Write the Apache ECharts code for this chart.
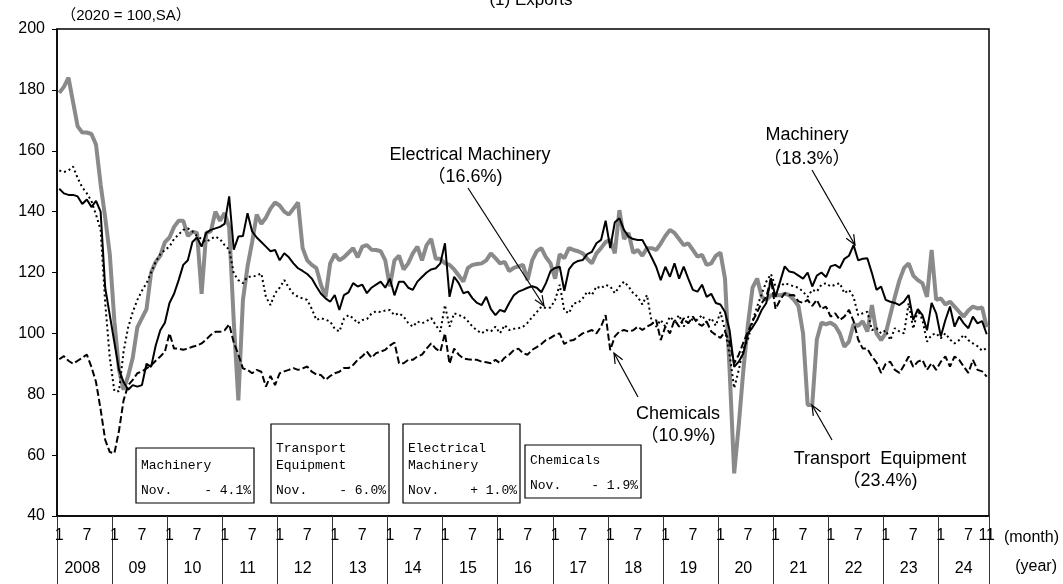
<!DOCTYPE html>
<html>
<head>
<meta charset="utf-8">
<script src="https://cdn.jsdelivr.net/npm/echarts@6/dist/echarts.min.js"></script>
<style>
  body { margin: 0; background: #fff; }
  #exportChart { width: 1063px; height: 584px; }
</style>
</head>
<body>
<div id="exportChart"></div>
<script>
// monthly index, 2020 = 100, Jan 2008 - Nov 2024
const years = ['2008', '09', '10', '11', '12', '13', '14', '15', '16', '17', '18', '19', '20', '21', '22', '23', '24'];
const lastMonth = 11;

const machinery = [
  147.5, 146, 145.5, 145.5, 145, 142.5, 144, 141.5, 143.5, 140, 115, 106,
  97, 88, 84, 81.5, 83, 82.5, 83, 90, 89, 96, 101, 103.5,
  110, 113, 117.5, 122.5, 124, 130, 131.5, 128.5, 133, 134, 134.5, 135,
  136, 145, 127.5, 131.8, 132, 139.5, 133.5, 131.5, 130, 128.5, 127, 127.4,
  124, 126.3, 125, 123, 121.4, 120.5, 119.5, 118, 115.4, 113, 111.5, 110.4,
  112.6, 107.7, 112.6, 113.5, 116.5, 115.4, 116, 113.2, 115, 116, 117, 115,
  118, 112.5, 117, 117, 115, 114.3, 117, 118.5, 120, 121, 121.4, 123,
  129.6, 112, 118.6, 116.5, 113.2, 113.7, 111.5, 110, 109.3, 112, 108, 106,
  107.7, 107.1, 110, 112.5, 113.7, 114.3, 115, 115.5, 115, 113.5, 116.5, 120.5,
  121.5, 121.9, 114, 121, 123, 123.8, 124.1, 126, 126.8, 129.6, 130.7, 137,
  128, 136.5, 137.8, 134, 131.8, 131, 130.7, 130.7, 128, 125, 121.9, 117.5,
  121.9, 118.6, 123, 118, 121.9, 118, 114.3, 113.7, 116, 112, 113, 110,
  109.5, 107, 101, 89, 90.7, 93.5, 100, 102, 104.4, 107.7, 110, 118,
  112, 117, 122, 120.3, 120, 119, 118, 120, 115.4, 119, 120, 118.5,
  122, 122.5, 121.5, 124.5, 125.5, 129, 124, 124.5, 124.7, 119.8, 114.3, 115.4,
  111, 110.4, 110, 109.3, 110.5, 112.6, 104.4, 108, 106, 101, 110, 106.6,
  99, 104.4, 108.8, 102.2, 105.5, 103.3, 101.7, 105.5, 103.3, 104, 99.7
];

const transport = [
  179, 181, 184, 176, 168, 166, 166, 165.5, 162, 149, 138, 126,
  104, 88, 81.5, 86, 92, 102, 105, 108, 120, 123.5, 125.5, 130,
  131.5, 135, 137, 137, 132, 133.4, 133, 113, 133, 133.5, 140, 137,
  139.5, 135, 104, 78, 111, 122, 130, 139, 136, 138, 141, 143,
  142, 140, 139, 141, 143, 128, 124, 122.5, 121.4, 116, 112, 123,
  126, 124, 125, 126.5, 128, 125, 128.5, 129, 127.5, 127.4, 127, 124,
  115.4, 124, 125.5, 121, 123, 126.3, 128.5, 124, 129, 131, 124.5, 124.5,
  123, 122.5, 121, 119, 117, 121.5, 122.5, 122.8, 123, 124, 126.3, 124.7,
  123, 123.5, 120.5, 121.5, 122, 122.5, 117.5, 124, 127, 128, 125, 123,
  118, 126, 124.7, 128, 127.4, 127, 126.3, 124.5, 123, 126.3, 128, 130,
  130.7, 126.3, 140.5, 131, 133, 126.5, 127.4, 125.5, 128, 128, 127.4, 129.5,
  132, 134, 133, 131, 129, 129.6, 127.4, 125.2, 125.8, 122.5, 123, 125.5,
  126.5, 118, 88, 54, 70, 88, 103, 115, 118, 112, 111, 112.5,
  112.5, 112.5, 113, 112.6, 111, 109, 100, 76.5, 76.5, 98, 103.5, 103,
  103.5, 102.5, 100, 95.6, 97.3, 103, 102.5, 104, 100.6, 109.3, 100, 97.8,
  100, 106, 112, 117.5, 121.5, 123, 119, 117.5, 116.5, 112, 127.4, 111,
  111.5, 109.5, 110.4, 108.8, 107.1, 105.5, 107.5, 108.8, 108.2, 108.5, 102
];

const electrical = [
  153.5, 153, 153.5, 154.8, 151, 148, 146, 143.5, 139, 134, 110, 92,
  81, 81, 94, 102, 107, 111, 114, 116.5, 120, 123.5, 126, 127.4,
  128.5, 131, 132.5, 134, 134.5, 133.5, 132, 131, 130, 131, 131.8, 131,
  129, 127.5, 119.7, 117.5, 116.5, 118.6, 118.6, 119, 119.7, 112, 109.3, 113.2,
  115, 117.5, 115, 113, 112, 111.5, 111, 108, 104.4, 105, 104.5, 103.9,
  101.5, 100.6, 104.8, 106, 105, 103.3, 104.4, 104.7, 106.5, 107.3, 107, 107.5,
  107.7, 106, 106.6, 105.5, 103.4, 102.2, 103.9, 103.3, 104, 105, 102.7, 100.6,
  109.3, 102.2, 106.6, 106, 105.5, 104, 102.2, 101, 100, 101.1, 100.6, 102.2,
  100, 102.7, 101.1, 101.5, 101.7, 102.2, 103.5, 105.3, 107, 108.8, 108.3, 108.5,
  111, 116, 107.5, 106.6, 109.9, 110, 111.5, 113.7, 112.6, 115.4, 114.8, 115.9,
  115.4, 113.2, 115.4, 117, 115.4, 113.2, 112, 109.5, 112.6, 104, 102.2, 104.4,
  102.2, 105.5, 103.9, 106, 102.2, 105.5, 104.4, 104.5, 106, 103.5, 105, 102.5,
  107, 101, 93, 82, 88, 95, 98, 104, 108.8, 113, 117, 119.5,
  115.4, 115.4, 116.5, 116, 115.4, 115, 113.7, 112, 114.3, 113.7, 116, 116.5,
  115.4, 116, 116.5, 113.2, 114.3, 112, 106, 106.6, 107.1, 101.1, 101.7, 100,
  101, 97.8, 101.7, 100.6, 100, 109.9, 101.5, 107.7, 104.4, 97.3, 99.5, 100,
  98.4, 100, 98, 96.7, 97.8, 99.5, 97.8, 96.7, 95.8, 94.3, 95.2
];

const chemicals = [
  91.5, 92.5, 91, 90, 91, 92, 93, 89, 84, 75, 65, 61,
  60.6, 68, 78, 83, 84.7, 86.9, 87.5, 88.5, 89.5, 91, 92.4, 94,
  100, 95, 95, 94.6, 95, 95.6, 96, 96.7, 98, 99.5, 100.5, 100.5,
  101, 103, 97, 93, 88.5, 88, 86.9, 88, 87.4, 82.5, 86, 83,
  86.9, 87.5, 88, 88.6, 88, 88.5, 89.1, 87.4, 86.5, 86.3, 84.7, 86,
  86.9, 87.4, 88.6, 88.6, 89.6, 91.3, 92.5, 94, 92, 93.5, 94, 94.6,
  96, 97, 90.2, 90.2, 91.3, 91.3, 92.4, 93, 95, 96.7, 95, 94,
  100, 90, 95, 93, 91.8, 91.5, 91.3, 91.3, 90.7, 90.5, 90.2, 91.3,
  90.2, 92, 93, 94.5, 95, 93.5, 93, 94.6, 95.5, 96.5, 97.8, 98.5,
  99.5, 100, 96.5, 97.5, 97.8, 98.9, 100, 100.5, 101.1, 100, 102.2, 106,
  94.5, 99, 100.6, 101.1, 100.6, 101, 102.2, 101.1, 102.2, 103, 104.4, 97.8,
  102.2, 100, 104.4, 102.2, 105, 103.3, 105.5, 103.3, 102.5, 103.9, 100.6, 99.5,
  98.5, 100.6, 97, 90.2, 93, 97, 100.5, 104, 107, 110, 112, 118,
  108, 111, 113.2, 112.5, 112.6, 110.5, 110, 111, 109, 111, 108, 108.8,
  105.5, 106.6, 104.4, 105.5, 107.7, 104, 98, 95, 95, 92.4, 90.5, 87,
  90, 90.7, 88, 87, 89.5, 92.4, 89, 90.7, 91.3, 88, 90.2, 88,
  90.7, 92.4, 89.1, 92.4, 91.3, 89.1, 87, 91.3, 88, 87.5, 85.8
];

// boxes: latest month change
const boxes = [
  { lines: ['Machinery'], change: '- 4.1%', x: 136, y: 448, w: 118, h: 55 },
  { lines: ['Transport', 'Equipment'], change: '- 6.0%', x: 271, y: 424, w: 118, h: 79 },
  { lines: ['Electrical', 'Machinery'], change: '+ 1.0%', x: 403, y: 424, w: 117, h: 79 },
  { lines: ['Chemicals'], change: '- 1.9%', x: 525, y: 445, w: 116, h: 53 }
];

const categories = [];
years.forEach((y, yi) => {
  const n = yi === years.length - 1 ? lastMonth : 12;
  for (let m = 1; m <= n; m++) categories.push(y + '/' + m);
});
const lastIdx = categories.length - 1;

const chart = echarts.init(document.getElementById('exportChart'));
const FONT = '"Liberation Sans", Arial, "Noto Sans CJK JP", sans-serif';
const MONO = '"Liberation Mono", "DejaVu Sans Mono", monospace';

function label(text, x, y, size, align) {
  return {
    type: 'text', x: x, y: y, z: 100,
    style: { text: text, font: (size || 18) + 'px ' + FONT, fill: '#000', align: align || 'center', verticalAlign: 'middle' }
  };
}

function arrow(x1, y1, x2, y2) {
  const a = Math.atan2(y2 - y1, x2 - x1), h = 11, w = 0.4;
  return [
    { type: 'line', z: 100, shape: { x1: x1, y1: y1, x2: x2, y2: y2 }, style: { stroke: '#000', lineWidth: 1.2 } },
    {
      type: 'polyline', z: 100,
      shape: { points: [[x2 - h * Math.cos(a - w), y2 - h * Math.sin(a - w)], [x2, y2], [x2 - h * Math.cos(a + w), y2 - h * Math.sin(a + w)]] },
      style: { stroke: '#000', lineWidth: 1.2, fill: null }
    }
  ];
}

const graphics = [
  label('(1) Exports', 531, 0, 17),
  label('（2020 = 100,SA）', 126, 16, 15),
  label('(month)', 1059, 538, 16, 'right'),
  label('(year)', 1057, 567, 16, 'right'),
  label('Electrical Machinery', 470, 155),
  label('（16.6%)', 465, 177),
  label('Machinery', 807, 135),
  label('（18.3%）', 807, 159),
  label('Chemicals', 678, 414),
  label('（10.9%)', 678, 436),
  label('Transport  Equipment', 880, 459),
  label('（23.4%)', 880, 481)
]
  .concat(arrow(468, 188, 544, 306))
  .concat(arrow(812, 170, 855, 245))
  .concat(arrow(638, 397, 614, 353))
  .concat(arrow(832, 440, 812, 405));

boxes.forEach(b => {
  graphics.push({ type: 'rect', z: 100, shape: { x: b.x, y: b.y, width: b.w, height: b.h }, style: { fill: '#fff', stroke: '#000', lineWidth: 1.2 } });
  b.lines.forEach((t, i) => {
    graphics.push({ type: 'text', z: 101, x: b.x + 5, y: b.y + b.h - 37 - (b.lines.length - 1 - i) * 17,
      style: { text: t, font: '13px ' + MONO, fill: '#000', align: 'left', verticalAlign: 'middle' } });
  });
  graphics.push({ type: 'text', z: 101, x: b.x + 5, y: b.y + b.h - 12,
    style: { text: 'Nov.', font: '13px ' + MONO, fill: '#000', align: 'left', verticalAlign: 'middle' } });
  graphics.push({ type: 'text', z: 101, x: b.x + b.w - 3, y: b.y + b.h - 12,
    style: { text: b.change, font: '13px ' + MONO, fill: '#000', align: 'right', verticalAlign: 'middle' } });
});

const option = {
  animation: false,
  grid: { left: 57, right: 74, top: 29, bottom: 68, show: true, borderColor: '#000', borderWidth: 1.5 },
  xAxis: [{
    type: 'category',
    data: categories,
    boundaryGap: true,
    axisLine: { lineStyle: { color: '#000', width: 1.5 } },
    axisTick: { show: false },
    axisLabel: {
      interval: 0, margin: 12, color: '#000', fontSize: 16, fontFamily: FONT,
      formatter: (v, idx) => {
        if (idx === lastIdx) return '11';
        const m = idx % 12;
        return m === 0 ? '1' : (m === 6 ? '7' : '');
      }
    },
    splitLine: { show: false }
  }, {
    type: 'category',
    data: categories,
    position: 'bottom',
    boundaryGap: true,
    axisLine: { show: false },
    axisTick: { show: false },
    axisLabel: {
      interval: 0, margin: 45, color: '#000', fontSize: 16, fontFamily: FONT,
      formatter: (v, idx) => idx % 12 === 5 ? years[Math.floor(idx / 12)] : ''
    },
    splitLine: { show: false }
  }, {
    // year dividers below the plot
    type: 'value',
    position: 'bottom',
    min: 0, max: categories.length, interval: 12,
    axisLine: { show: false },
    axisTick: { show: true, length: 68, lineStyle: { color: '#333', width: 1 } },
    axisLabel: { show: false },
    splitLine: { show: false }
  }],
  yAxis: {
    type: 'value',
    min: 40, max: 200, interval: 20,
    axisLine: { show: true, lineStyle: { color: '#000', width: 1.5 } },
    axisTick: { show: true, length: 5, lineStyle: { color: '#000' } },
    axisLabel: { color: '#000', fontSize: 16, fontFamily: FONT, margin: 12 },
    splitLine: { show: false }
  },
  series: [
    { name: 'Transport Equipment', type: 'line', data: transport, symbol: 'none',
      lineStyle: { color: '#8a8a8a', width: 4 } },
    { name: 'Chemicals', type: 'line', data: chemicals, symbol: 'none',
      lineStyle: { color: '#000', width: 2, type: [7, 3] } },
    { name: 'Electrical Machinery', type: 'line', data: electrical, symbol: 'none',
      lineStyle: { color: '#000', width: 2, type: [2, 3] } },
    { name: 'Machinery', type: 'line', data: machinery, symbol: 'none',
      lineStyle: { color: '#000', width: 2 } }
  ],
  graphic: graphics
};

chart.setOption(option);
</script>
</body>
</html>
